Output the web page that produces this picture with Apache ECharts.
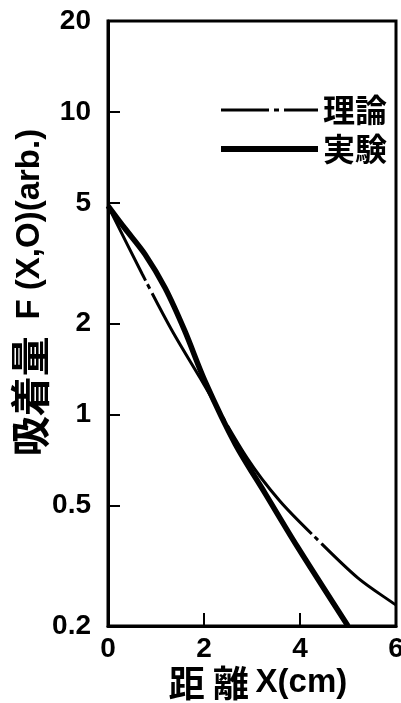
<!DOCTYPE html>
<html>
<head>
<meta charset="utf-8">
<script src="https://cdn.jsdelivr.net/npm/echarts@6/dist/echarts.min.js"></script>
<style>
  html, body { margin: 0; padding: 0; background: #fff; }
  #chart { width: 401px; height: 703px; }
</style>
</head>
<body>
<div id="chart"></div>
<script>
// Theoretical curve (dash-dot): distance X (cm) and adsorbed amount F(X,0)
const theoryX = [0, 0.71, 1.33, 1.92, 2.9, 3.58, 4.35, 5.21, 5.94, 6];
const theoryF = [4.9, 2.92, 1.9, 1.32, 0.718, 0.518, 0.388, 0.288, 0.238, 0.235];

// Measured curve (thick solid)
const expX = [0, 0.35, 0.77, 1.19, 1.6, 2.02, 2.65, 3.27, 3.94, 5.0];
const expF = [4.9, 4.13, 3.39, 2.62, 1.89, 1.29, 0.80, 0.55, 0.367, 0.2];

// Axis ticks and labels
const xTicks = [0, 2, 4, 6];
const yLabelValues = [0.2, 0.5, 1, 2, 5, 10, 20];
const yTickValues = [0.5, 1, 2, 5, 10];
const seriesNames = ['理論', '実験'];

const latin = 'Liberation Sans';
const cjk = 'Noto Sans CJK JP';

const chart = echarts.init(document.getElementById('chart'), null, { renderer: 'canvas' });

const pairs = (xs, ys) => xs.map((x, i) => [x, ys[i]]);

chart.setOption({
  backgroundColor: '#fff',
  animation: false,
  grid: {
    left: 108, right: 5, top: 21, bottom: 77,
    show: true, borderColor: '#000', borderWidth: 3,
    containLabel: false,
    outerBoundsMode: 'none'
  },
  legend: {
    orient: 'vertical',
    left: 218, top: 94, padding: 0,
    itemWidth: 97, itemHeight: 30, itemGap: 7,
    selectedMode: false,
    itemStyle: { opacity: 0 },
    textStyle: { fontSize: 32, fontFamily: cjk, fontWeight: 'bold', color: '#000' },
    data: [
      { name: seriesNames[0], lineStyle: { type: [48, 5, 5, 5], dashOffset: 0, width: 3, color: '#000' } },
      { name: seriesNames[1], lineStyle: { width: 6, color: '#000' } }
    ]
  },
  xAxis: {
    type: 'value', min: xTicks[0], max: xTicks[xTicks.length - 1], interval: 2,
    axisLine: { lineStyle: { color: '#000', width: 3 } },
    axisTick: { inside: true, length: 13, lineStyle: { color: '#000', width: 2 } },
    splitLine: { show: false },
    axisLabel: { color: '#000', fontSize: 28, fontWeight: 'bold', fontFamily: latin, margin: 9 },
    name: '{c|距 離}  {l|X(cm)}',
    nameLocation: 'middle',
    nameGap: 39,
    nameMoveOverlap: false,
    nameTextStyle: {
      padding: [0, 0, 0, 12],
      rich: {
        c: { fontSize: 36, fontFamily: cjk, fontWeight: 'bold', color: '#000' },
        l: { fontSize: 33, fontFamily: latin, fontWeight: 'bold', color: '#000' }
      }
    }
  },
  yAxis: {
    type: 'log', logBase: 10, min: 0.2, max: 20,
    axisLine: { lineStyle: { color: '#000', width: 3 } },
    axisTick: { inside: true, length: 12, customValues: yTickValues, lineStyle: { color: '#000', width: 2 } },
    minorTick: { show: false },
    splitLine: { show: false },
    axisLabel: {
      customValues: yLabelValues,
      color: '#000', fontSize: 28, fontWeight: 'bold', fontFamily: latin, margin: 17,
      formatter: v => String(+Number(v).toPrecision(3))
    },
    name: '{c|吸着量}     {l|F (X,O)(arb.)}',
    nameLocation: 'middle',
    nameRotate: 90,
    nameGap: 58,
    nameMoveOverlap: false,
    nameTextStyle: {
      padding: [0, 0, 0, 62],
      rich: {
        c: { fontSize: 40, fontFamily: cjk, fontWeight: 'bold', color: '#000' },
        l: { fontSize: 33, fontFamily: latin, fontWeight: 'bold', color: '#000' }
      }
    }
  },
  series: [
    {
      name: seriesNames[0], type: 'line', data: pairs(theoryX, theoryF),
      symbol: 'none', smooth: 0.3,
      lineStyle: { color: '#000', width: 3, type: [138, 4, 5, 5], dashOffset: 54 },
      z: 3
    },
    {
      name: seriesNames[1], type: 'line', data: pairs(expX, expF),
      symbol: 'none', smooth: 0.3,
      lineStyle: { color: '#000', width: 5.5 },
      z: 2
    }
  ]
});
</script>
</body>
</html>
